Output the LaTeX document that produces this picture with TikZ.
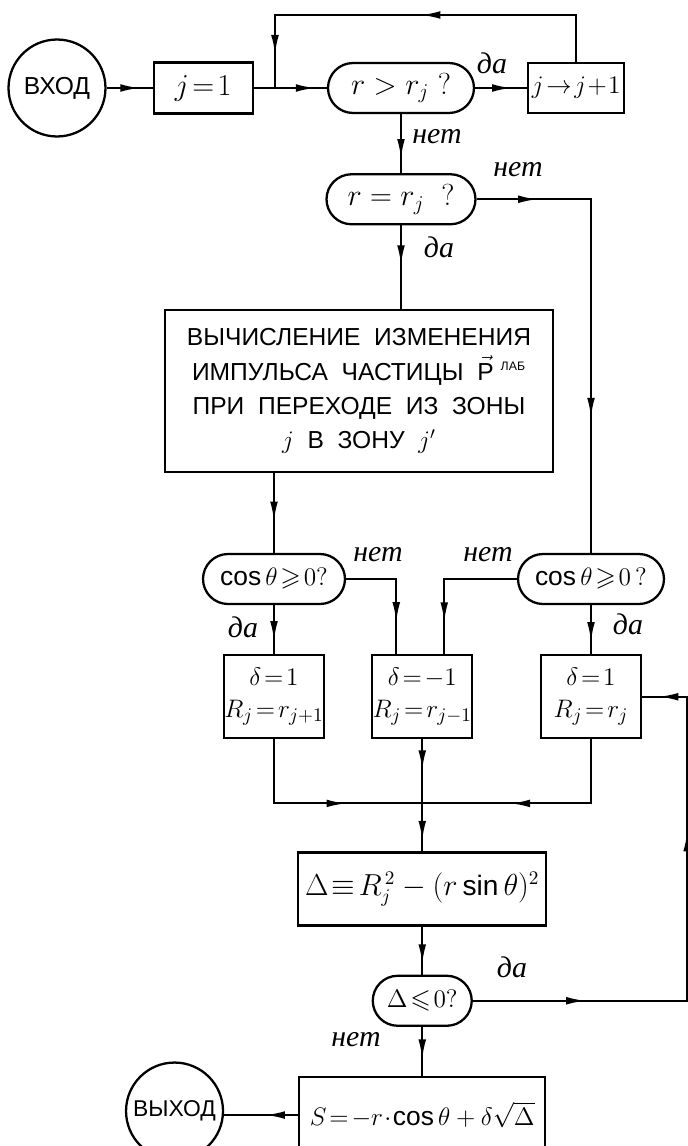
\documentclass[tikz,border=0pt]{standalone}
\usepackage{amssymb}
\usepackage{fontspec}
\setmainfont{Liberation Sans}
\newfontfamily\labelfont{Liberation Serif}
\usetikzlibrary{positioning,arrows.meta,decorations.markings}

\begin{document}
\begin{tikzpicture}[
    x=0.02cm, y=-0.02cm,
    node distance=1cm,
    every node/.style={font=\fontsize{15}{18}\selectfont},
    proc/.style={rectangle, draw, line width=1.3pt, inner sep=0pt, align=center},
    cond/.style={rectangle, rounded corners=0.5cm, draw, line width=1.3pt,
                 minimum height=1cm, inner sep=0pt},
    term/.style={circle, draw, line width=1.3pt, minimum size=1.94cm, inner sep=0pt,
                 font=\fontsize{14}{16}\selectfont},
    lbl/.style={font=\labelfont\itshape\fontsize{17}{20}\selectfont},
    conn/.style={line width=1.1pt},
    arr/.style={postaction={decorate, decoration={markings,
        mark=at position #1 with {\arrow{Latex[length=11pt,width=4.4pt]}}}}},
]
\useasboundingbox (0,0) rectangle (687,1146);

% Top row
\node[term] (vhod) at (57,88) {ВХОД};
\node[proc, minimum width=1.98cm, minimum height=1.02cm, right=0.92cm of vhod, font=\fontsize{17}{20}\selectfont] (jone) {$j\!=\!1$};
\node[cond, minimum width=2.92cm, right=1.46cm of jone, font=\fontsize{18}{20}\selectfont] (rgt) {$r > r_j\;?$};
\node[proc, minimum width=1.92cm, minimum height=1cm, right=1.04cm of rgt] (jinc) {$j\!\to\! j\!+\!1$};
\node[cond, minimum width=2.98cm, below=1.18cm of rgt, font=\fontsize{18}{20}\selectfont] (req) {$r = r_j\;\;?$};

% Momentum change
\node[proc, minimum width=7.76cm, minimum height=3.24cm, font=\fontsize{14}{19.5}\selectfont] (calc) at (359,391)
    {ВЫЧИСЛЕНИЕ\ \ ИЗМЕНЕНИЯ\\ИМПУЛЬСА\ \ ЧАСТИЦЫ\ \ $\vec{\mathrm{P}}$\kern4pt\textsuperscript{\scriptsize ЛАБ}\\ПРИ\ \ ПЕРЕХОДЕ\ \ ИЗ\ \ ЗОНЫ\\$j$\ \ В\ \ ЗОНУ\ \ $j'$};

% Direction tests
\node[cond, minimum width=2.84cm] (cosl) at (274,579) {$\cos\theta\!\geqslant\!0?$};
\node[cond, minimum width=2.92cm] (cosr) at (591,579) {$\cos\theta\!\geqslant\!0\,?$};
\node[proc, minimum width=2cm, minimum height=1.66cm, below=0.98cm of cosl] (dpl) {$\delta\!=\!1$\\$R_j\!=\!r_{j+1}$};
\node[proc, minimum width=2cm, minimum height=1.66cm, right=0.92cm of dpl] (dmn) {$\delta\!=\!-1$\\$R_j\!=\!r_{j-1}$};
\node[proc, minimum width=2cm, minimum height=1.66cm, below=0.98cm of cosr] (dpr) {$\delta\!=\!1$\\$R_j\!=\!r_j$};

% Distance
\node[proc, minimum width=4.96cm, minimum height=1.46cm, below=2.24cm of dmn, font=\fontsize{16}{19}\selectfont] (delta) {$\Delta\!\equiv\! R_{j}^{\,2}-(r\sin\theta)^2$};
\node[cond, minimum width=1.98cm, below=0.96cm of delta] (dle) {$\Delta\!\leqslant\!0?$};
\node[proc, minimum width=4.92cm, minimum height=1.52cm, below=0.98cm of dle] (sbox) {$S\!=\!-r\!\cdot\!\cos\theta+\delta\sqrt{\Delta}$};
\node[term, left=1.48cm of sbox, yshift=0.08cm, font=\fontsize{13}{15}\selectfont] (vyhod) {ВЫХОД};

% Branch labels
\node[lbl] (yes1) at (492,63) {да};
\node[lbl] (no1) at (437,137) {нет};
\node[lbl] (no2) at (518,170) {нет};
\node[lbl] (yes2) at (439,247) {да};
\node[lbl] (no3) at (378,555) {нет};
\node[lbl] (no4) at (488,555) {нет};
\node[lbl] (yes3) at (243,627) {да};
\node[lbl] (yes4) at (628,624) {да};
\node[lbl] (yes5) at (512,967) {да};
\node[lbl] (no5) at (356,1040) {нет};

% Connectors
\coordinate (junc) at (275,88);
\coordinate (ltop) at (275,15);
\path (dmn.south) ++(0,64) coordinate (merge);
\draw[conn, arr=0.72] (vhod) -- (jone);
\draw[conn, arr=0.84] (jone) -- (rgt);
\draw[conn, arr=0.48, arr=0.92] (jinc.north) |- (ltop) -- (junc);
\draw[conn, arr=0.7] (rgt) -- (jinc);
\draw[conn, arr=0.75] (rgt) -- (req);
\draw[conn, arr=0.13, arr=0.71] (req.east) -| (cosr.north);
\draw[conn, arr=0.47] (req.south) -- (req.south |- calc.north);
\draw[conn, arr=0.6] (cosl.north |- calc.south) -- (cosl.north);
\draw[conn, arr=0.72] (cosl) -- (dpl);
\draw[conn, arr=0.74] (cosl.east) -| ([xshift=-0.52cm]dmn.north);
\draw[conn, arr=0.78] (cosr.west) -| ([xshift=0.44cm]dmn.north);
\draw[conn, arr=0.74] (cosr) -- (dpr);
\draw[conn, arr=0.64] (dpl.south) |- (merge);
\draw[conn, arr=0.62] (dpr.south) |- (merge);
\draw[conn, arr=0.27, arr=0.9] (dmn) -- (delta);
\draw[conn, arr=0.77] (delta) -- (dle);
\draw[conn, arr=0.2, arr=0.68, arr=0.97] (dle.east) -| ([xshift=0.9cm]dpr.east) -- (dpr.east);
\draw[conn, arr=0.65] (dle) -- (sbox);
\draw[conn, arr=0.44] (sbox.west) -- (vyhod.east |- sbox.west);

\end{tikzpicture}
\end{document}
